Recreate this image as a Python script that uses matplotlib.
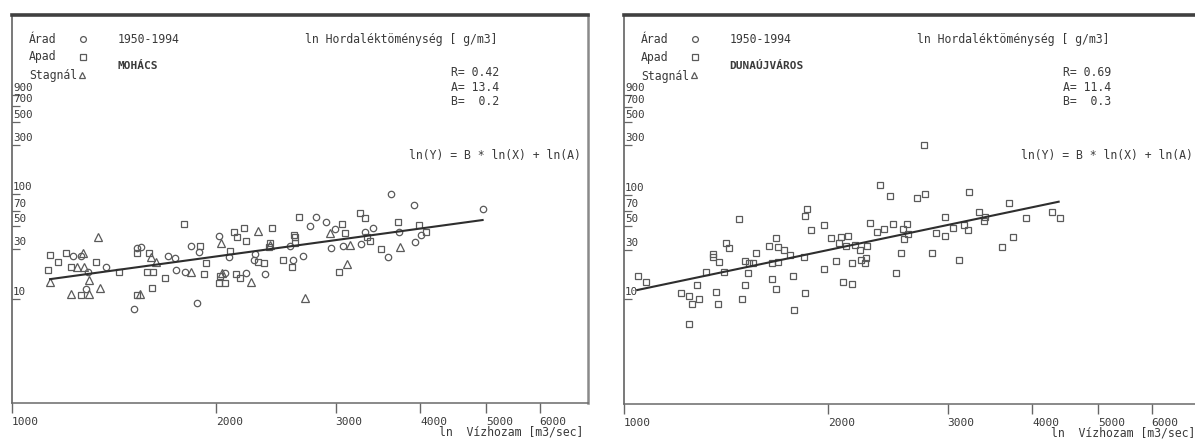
import matplotlib
matplotlib.use("Agg")
import matplotlib.pyplot as plt
import matplotlib.transforms as mtransforms

plt.rcParams['font.family'] = ['DejaVu Sans Mono', 'DejaVu Sans']

# --- data (Vízhozam m3/sec vs Hordaléktöménység g/m3) ---
years = "1950-1994"
x_ticks = [1000, 2000, 3000, 4000, 5000, 6000]
y_ticks = [10, 30, 50, 70, 100, 300, 500, 700, 900]

# Mohács
moh_arad_x = [3626, 3913, 4943, 2808, 2908, 2754, 2996, 3321, 3408, 3720, 4005, 2023,
              2087, 2566, 2957, 3074, 3266, 3579, 3928, 2598, 2683, 2284, 2278, 2365,
              1834, 1887, 2060, 2211, 1748, 1799, 1698, 1742, 1531, 1551, 1377, 1229,
              1262, 1295, 1515, 1873, 1286]
moh_arad_y = [102, 79, 72.3, 61.1, 53.9, 50.1, 46.2, 43.2, 47.2, 43.6, 40.8, 39.9,
              25.3, 32.0, 30.8, 32.2, 33.4, 24.9, 34.7, 23.5, 25.8, 26.8, 23.5, 17.2,
              32.0, 27.8, 17.8, 17.8, 18.8, 18.2, 25.6, 24.4, 30.8, 31.5, 20.0, 25.8,
              25.8, 18.2, 8.0, 9.0, 12.4]
moh_apad_x = [1794, 2649, 3062, 3263, 3321, 3711, 3979, 3094, 3334, 4083, 2414, 2125,
              2200, 2147, 2211, 2095, 2405, 2390, 2608, 2618, 2615, 3377, 3497, 3035,
              2510, 2589, 2308, 2353, 1934, 1895, 2026, 2141, 2169, 2020, 2060, 1919,
              1683, 1581, 1612, 1531, 1591, 1439, 1328, 1138, 1168, 1201, 1131, 1222,
              1266, 1531, 1608]
moh_apad_y = [51.6, 61.1, 52.0, 65.7, 58.9, 54.7, 50.4, 42.3, 39.3, 43.6, 47.9, 43.6,
              47.2, 38.7, 36.0, 28.8, 34.4, 31.5, 40.8, 38.7, 33.9, 36.0, 29.9, 18.2,
              23.3, 20.3, 22.3, 22.1, 21.8, 32.0, 16.5, 17.2, 15.7, 14.2, 14.0, 17.2,
              15.9, 18.2, 18.2, 27.2, 27.2, 18.2, 22.6, 26.2, 22.6, 27.2, 18.8, 20.3,
              10.9, 10.8, 12.7]
moh_stag_x = [2308, 2942, 3155, 3730, 3114, 2405, 2034, 2040, 2254, 1834, 1629, 1602,
              1340, 1273, 1245, 1275, 1138, 1222, 1298, 1298, 1346, 1545, 2701]
moh_stag_y = [44.9, 42.3, 32.9, 31.5, 21.5, 32.7, 33.9, 17.5, 14.4, 18.2, 22.6, 25.3,
              39.3, 27.6, 20.3, 20.3, 14.4, 11.1, 11.1, 15.1, 12.8, 11.1, 10.1]
moh_fit_x = [1138, 4943]
moh_fit_y = [15.4, 56.8]
moh_stats = ["R= 0.42", "A= 13.4", "B=  0.2"]

# Dunaújváros
dun_apad_x = [2771, 2388, 2470, 2700, 2782, 3222, 1478, 1864, 1850, 3694, 3341, 3405,
              3397, 3910, 4284, 4391, 2975, 2880, 2975, 3052, 3173, 3214, 2614, 2580,
              2620, 2590, 2307, 2358, 2420, 2492, 1973, 1886, 2020, 2086, 2141, 2073,
              2127, 2191, 2225, 2283, 1678, 1637, 1686, 1719, 1759, 1845, 3742, 3609,
              3116, 2843, 2564, 1567, 1509, 1531, 1551, 1521, 1413, 1426, 1354, 1351,
              1381, 1320, 1402, 1654, 1686, 1973, 2054, 2168, 2239, 2268, 2275, 2515,
              1773, 1654, 1678, 2100, 2168, 1049, 1076, 1283, 1368, 1213, 1245, 1291,
              1509, 1492, 1850, 1258, 1377, 1248, 1782]
dun_apad_y = [300, 123, 98.6, 92.9, 103, 106, 58.6, 73.2, 62.2, 83.0, 68.0, 60.8,
              56.5, 60.4, 68.0, 59.9, 60.8, 43.5, 40.4, 48.7, 51.2, 46.2, 52.4, 46.9,
              42.0, 38.1, 53.6, 44.2, 47.6, 52.4, 51.2, 45.8, 38.6, 39.2, 40.4, 34.3,
              32.4, 33.3, 30.0, 32.4, 38.9, 32.4, 31.9, 29.6, 26.5, 25.5, 39.8, 31.9,
              24.0, 27.5, 27.5, 27.5, 23.5, 22.3, 22.3, 17.9, 34.3, 30.7, 26.9, 25.5,
              22.8, 18.1, 18.1, 22.3, 22.8, 19.5, 23.2, 22.3, 24.0, 22.3, 24.9, 17.9,
              16.6, 15.6, 12.7, 14.8, 14.0, 16.6, 14.8, 13.8, 11.7, 11.6, 10.8, 10.1,
              13.8, 10.1, 11.6, 8.95, 8.95, 5.8, 7.9]
dun_fit_x = [1046, 4375]
dun_fit_y = [12.3, 86]
dun_stats = ["R= 0.69", "A= 11.4", "B=  0.3"]

INK = '#3a3a3a'
MARK = '#5a5a5a'
FS = 8.3


def draw_panel(ax, station, stats, fit_x, fit_y, arad=None, apad=None, stag=None):
    ax.set_xscale('log')
    ax.set_yscale('log')
    ax.set_xlim(1000, 7070)
    ax.set_ylim(1, 5250)

    mk = dict(linestyle='none', markerfacecolor='none', markeredgecolor=MARK,
              markeredgewidth=0.9)
    if arad is not None:
        ax.plot(arad[0], arad[1], marker='o', markersize=4.6, **mk)
    if apad is not None:
        ax.plot(apad[0], apad[1], marker='s', markersize=4.8, **mk)
    if stag is not None:
        ax.plot(stag[0], stag[1], marker='^', markersize=5.2, **mk)
    ax.plot(fit_x, fit_y, color='#2e2e2e', linewidth=1.5)

    # frame
    ax.spines['top'].set_linewidth(2.6)
    ax.spines['top'].set_color('#404040')
    ax.spines['left'].set_linewidth(1.1)
    ax.spines['left'].set_color('#555555')
    ax.spines['bottom'].set_linewidth(1.1)
    ax.spines['bottom'].set_color('#6a6a6a')
    ax.spines['right'].set_linewidth(1.8)
    ax.spines['right'].set_color('#8a8a8a')

    # x ticks: outward marks, labels left-aligned at the tick
    ax.xaxis.set_minor_locator(matplotlib.ticker.NullLocator())
    ax.set_xticks(x_ticks)
    ax.set_xticklabels([str(v) for v in x_ticks])
    for lab in ax.get_xticklabels():
        lab.set_ha('left')
    ax.tick_params(axis='x', direction='out', length=7, width=1.0, color='#666666',
                   labelsize=8, labelcolor=INK, pad=3)

    # y ticks: short inward marks, labels inside the frame above the mark
    ax.yaxis.set_minor_locator(matplotlib.ticker.NullLocator())
    ax.set_yticks(y_ticks)
    ax.tick_params(axis='y', direction='in', length=6, width=0.9, color='#666666',
                   labelleft=False)
    ytr = mtransforms.offset_copy(ax.get_yaxis_transform(), fig=ax.figure,
                                  x=0, y=7, units='dots')
    for v in y_ticks:
        ax.text(0.002, v, str(v), transform=ytr, ha='left', va='center',
                fontsize=7.8, color=INK)

    t = ax.transAxes
    ax.text(0.030, 0.938, "Árad", transform=t, fontsize=FS, color=INK, va='center')
    ax.text(0.030, 0.892, "Apad", transform=t, fontsize=FS, color=INK, va='center')
    ax.text(0.030, 0.843, "Stagnál", transform=t, fontsize=FS, color=INK, va='center')
    ax.plot([0.123], [0.938], transform=t, marker='o', markersize=4.2, **mk)
    ax.plot([0.123], [0.892], transform=t, marker='s', markersize=4.4, **mk)
    ax.plot([0.122], [0.846], transform=t, marker='^', markersize=5.0, **mk)

    ax.text(0.183, 0.938, years, transform=t, fontsize=FS, color=INK, va='center')
    ax.text(0.183, 0.869, station, transform=t, fontsize=8.0, color=INK, va='center',
            fontweight='bold')
    ax.text(0.508, 0.938, "ln Hordaléktöménység [ g/m3]", transform=t, fontsize=FS,
            color=INK, va='center')
    for i, s in enumerate(stats):
        ax.text(0.763, 0.851 - 0.037 * i, s, transform=t, fontsize=FS, color=INK,
                va='center')
    ax.text(0.690, 0.639, "ln(Y) = B * ln(X) + ln(A)", transform=t, fontsize=FS,
            color=INK, va='center')
    ax.text(0.992, -0.075, "ln  Vízhozam [m3/sec]", transform=t, fontsize=FS,
            color=INK, ha='right', va='center')


fig = plt.figure(figsize=(11.95, 4.41), dpi=100)
ax1 = fig.add_axes([12 / 1195, 1 - 403 / 441, 576 / 1195, 388 / 441])
ax2 = fig.add_axes([624 / 1195, 1 - 404 / 441, 576 / 1195, 389 / 441])

draw_panel(ax1, "MOHÁCS", moh_stats, moh_fit_x, moh_fit_y,
           arad=(moh_arad_x, moh_arad_y), apad=(moh_apad_x, moh_apad_y),
           stag=(moh_stag_x, moh_stag_y))
draw_panel(ax2, "DUNAÚJVÁROS", dun_stats, dun_fit_x, dun_fit_y,
           apad=(dun_apad_x, dun_apad_y))

fig.savefig("out.png", dpi=100)
